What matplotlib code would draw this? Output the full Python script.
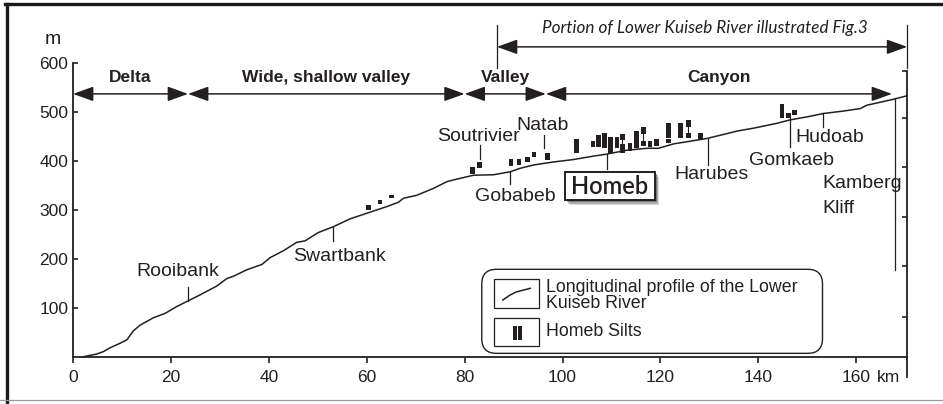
import numpy as np
import matplotlib
matplotlib.use("Agg")
import matplotlib.pyplot as plt
from matplotlib.patches import FancyArrowPatch, FancyBboxPatch, Rectangle
from matplotlib.lines import Line2D

plt.rcParams['font.family'] = ['Liberation Sans', 'DejaVu Sans']

INK = '#231f20'

# longitudinal profile of the lower Kuiseb (km from the sea, elevation m)
profile_km = [1.8, 4.8, 6.2, 7.6, 9.6, 11, 12.3, 13.7, 16.4, 18.8, 21.2, 23.2, 26, 29.4,
              31.4, 32.8, 35.5, 38.6, 40.3, 43, 45.7, 47.4, 50.1, 53.2, 56.6, 59.3, 62,
              64.1, 66.5, 67.5, 70.2, 73.6, 76.4, 78.4, 81.8, 85.9, 89.3, 91.3, 94.1,
              98.1, 102.2, 106.3, 109, 113.1, 117.2, 119.6, 122.7, 129.5, 133.6, 135.6,
              139, 143.8, 146.5, 149.9, 153.3, 157.4, 160.8, 162.2, 167.6, 170.3]
profile_m = [0, 6, 11, 19, 28, 35, 53, 65, 80, 89, 103, 113, 127, 145,
             160, 165, 178, 189, 203, 217, 234, 237, 254, 266, 282, 291, 300,
             307, 316, 324, 330, 344, 358, 363, 371, 372, 378, 385, 392,
             398, 403, 410, 414, 422, 426, 426, 435, 446, 456, 461,
             467, 477, 484, 490, 497, 502, 507, 514, 526, 533]

# Homeb silt outcrops: km, base, top (m)
silt_km = [60.3, 62.7, 65.1, 81.6, 83.1, 89.5, 91.1, 92.9, 94.2, 96.9,
           102.8, 106.2, 107.4, 108.6, 109.8, 111.1, 112.2, 112.2, 113.8, 115.1,
           116.5, 116.5, 117.9, 119.2, 121.7, 121.7, 124.1, 125.7, 125.7, 128.2,
           144.8, 146.2, 147.4]
silt_base = [301, 312, 325, 373, 385, 389, 392, 399, 409, 402,
             417, 429, 429, 426, 416, 426, 417, 442, 421, 427,
             431, 456, 429, 431, 437, 448, 448, 446, 470, 444,
             487, 487, 494]
silt_top = [310, 320, 331, 388, 397, 405, 405, 408, 418, 416,
            444, 441, 453, 457, 450, 450, 435, 456, 437, 462,
            441, 470, 441, 444, 444, 477, 477, 458, 484, 458,
            516, 499, 504]
# split outcrops joined by a thin line: km, lower top, upper base
silt_links = [(112.2, 435, 442), (116.5, 441, 456), (125.7, 458, 470)]

# places: name, km of the pointer line, line bottom and top (m)
place_names = ['Rooibank', 'Swartbank', 'Soutrivier', 'Gobabeb', 'Natab', 'Homeb',
               'Harubes', 'Gomkaeb', 'Hudoab', 'Kamberg Kliff']
place_km = [23.4, 53.1, 83.1, 89.3, 96.2, 109, 129.8, 146.4, 153.2, 168]
place_lo = [114, 237, 404, 354, 427, 384, 392, 429, 470, 178]
place_hi = [142, 266, 433, 378, 453, 414, 445, 488, 497, 528]

# river sections
section_names = ['Delta', 'Wide, shallow valley', 'Valley', 'Canyon']
section_edges = [0, 23.5, 80, 96.6, 167.3]

x_ticks = [0, 20, 40, 60, 80, 100, 120, 140, 160]
y_ticks = [100, 200, 300, 400, 500, 600]
right_ticks = [82, 186, 286, 388, 488, 584]

fig = plt.figure(figsize=(9.43, 4.04), dpi=100)
ax = fig.add_axes([0.0774, 0.1163, 0.8841, 0.7277])
ax.set_xlim(0, 170.3)
ax.set_ylim(0, 600)

ax.plot(profile_km, profile_m, color=INK, lw=1.1, solid_joinstyle='round')

silt_h = np.array(silt_top) - np.array(silt_base)
ax.bar(silt_km, silt_h, bottom=silt_base, width=0.95, color=INK, linewidth=0)
for k, a, b in silt_links:
    ax.plot([k, k], [a, b], color=INK, lw=0.8)

# place pointers and labels
for name, k, lo, hi in zip(place_names, place_km, place_lo, place_hi):
    ax.plot([k, k], [lo, hi], color=INK, lw=0.9)

fs = 14
label_pos = {'Rooibank': (21.5, 174), 'Swartbank': (54.4, 206), 'Soutrivier': (82.8, 451),
             'Gobabeb': (90.3, 327), 'Natab': (96.0, 473), 'Harubes': (130.5, 373),
             'Gomkaeb': (146.8, 402), 'Hudoab': (154.5, 449)}
for name, (x, y) in label_pos.items():
    ax.text(x, y, name, fontsize=fs, ha='center', va='center', color=INK)
ax.text(153.1, 355, 'Kamberg', fontsize=fs, ha='left', va='center', color=INK)
ax.text(153.1, 304, 'Kliff', fontsize=fs, ha='left', va='center', color=INK)

# Homeb box with shadow
for d, a in [(1.0, 0.2), (0.7, 0.3), (0.4, 0.5)]:
    ax.add_patch(Rectangle((100.5 + d, 320 - 10 * d), 18.3, 58, color='#444444',
                           alpha=a, lw=0))
ax.add_patch(Rectangle((100.5, 320), 18.3, 58, facecolor='white', edgecolor=INK, lw=1.4))
ax.text(109.65, 348, 'Homeb', fontsize=17, ha='center', va='center', color=INK,
        family=['Lato', 'DejaVu Sans'], fontweight='semibold')

# section arrows
ay = 537
arrow_style = '<|-|>,head_length=1.25,head_width=0.45'
for i, name in enumerate(section_names):
    a, b = section_edges[i], section_edges[i + 1]
    ax.add_patch(FancyArrowPatch((a, ay), (b, ay), arrowstyle=arrow_style,
                                 mutation_scale=10, color=INK, lw=1.1, shrinkA=0, shrinkB=0,
                                 clip_on=False))
    ax.text((a + b) / 2, 571, name, fontsize=12.5, fontweight='bold', ha='center',
            va='center', color=INK)

# portion illustrated in Fig.3
ax.add_patch(FancyArrowPatch((86.6, 633), (170.4, 633), arrowstyle=arrow_style,
                             mutation_scale=10, color=INK, lw=1.1, shrinkA=0, shrinkB=0,
                             clip_on=False))
for k in [86.6, 170.4]:
    ax.plot([k, k], [590, 678], color=INK, lw=0.9, clip_on=False)
ax.text(129, 671, 'Portion of Lower Kuiseb River illustrated Fig.3', fontsize=12.3,
        style='italic', ha='center', va='center', color=INK, family=['Lato', 'DejaVu Sans'])

# legend
ax.add_patch(FancyBboxPatch((83.5, 7.5), 69.6, 171.5, boxstyle='round,pad=0,rounding_size=3',
                            mutation_aspect=10, facecolor='white', edgecolor=INK, lw=1.0))
ax.add_patch(Rectangle((86.1, 99.4), 9.0, 59.2, facecolor='none', edgecolor=INK, lw=0.9))
ax.add_patch(Rectangle((86.1, 22.4), 9.0, 57.8, facecolor='none', edgecolor=INK, lw=0.9))
ax.plot([87.8, 89.2, 90.5, 93.4], [116.3, 126, 132.7, 140.2], color=INK, lw=1.1)
ax.bar([90.3, 91.4], [28.6, 28.6], bottom=34.7, width=0.8, color=INK, linewidth=0)
ax.text(96.6, 126, 'Longitudinal profile of the Lower\nKuiseb River', fontsize=12.8,
        ha='left', va='center', color=INK, linespacing=0.95)
ax.text(96.6, 52, 'Homeb Silts', fontsize=12.8, ha='left', va='center', color=INK)

# axes
for s in ['top', 'right']:
    ax.spines[s].set_visible(False)
ax.spines['left'].set_bounds(0, 600)
ax.spines['bottom'].set_bounds(0, 170.3)
for s in ['left', 'bottom']:
    ax.spines[s].set_linewidth(1.3)
    ax.spines[s].set_color(INK)
ax.set_xticks(x_ticks)
ax.set_xticklabels([str(v) for v in x_ticks])
ax.set_yticks(y_ticks)
ax.tick_params(axis='x', direction='out', length=4.3, width=1.2, pad=5, labelsize=12.5,
               colors=INK)
ax.tick_params(axis='y', direction='in', length=3.5, width=1.2, pad=3.5, labelsize=12.5,
               colors=INK)
ax.annotate('km', xy=(160, 0), xytext=(14.5, -9.3), textcoords='offset points',
            fontsize=12.5, ha='left', va='top', color=INK, annotation_clip=False)
ax.text(-4.1, 647, 'm', fontsize=14, ha='center', va='center', color=INK)

ax2 = ax.twinx()
ax2.set_ylim(0, 600)
ax2.set_yticks(right_ticks)
ax2.tick_params(axis='y', direction='in', length=3.8, width=1.2, labelright=False, colors=INK)
for s in ['top', 'left', 'bottom']:
    ax2.spines[s].set_visible(False)
ax2.spines['right'].set_bounds(-41, 584)
ax2.spines['right'].set_linewidth(1.3)
ax2.spines['right'].set_color(INK)

# outer frame
fig.add_artist(Line2D([0.0074, 0.0074], [0.0, 0.99], color='#1a1a1a', lw=2.4))
fig.add_artist(Line2D([0.005, 1.0], [0.9889, 0.9889], color='#1a1a1a', lw=2.4))
fig.add_artist(Line2D([0.0, 1.0], [0.011, 0.011], color='#999999', lw=0.9))

fig.savefig('out.png', dpi=100)
